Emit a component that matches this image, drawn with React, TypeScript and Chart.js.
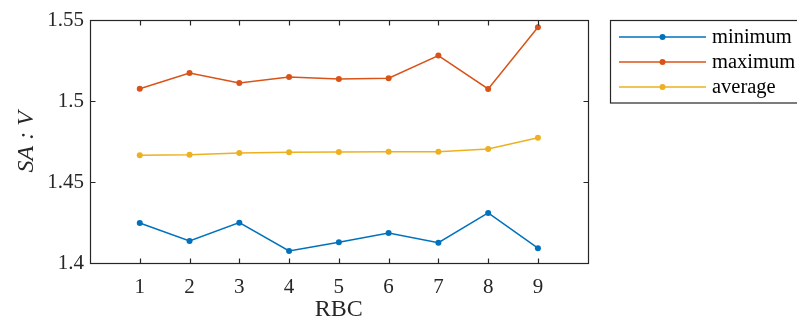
import React, { useEffect, useRef } from "react";
import { Chart, registerables } from "chart.js";

Chart.register(...registerables);

// RBC index on the x axis
const rbc = [1, 2, 3, 4, 5, 6, 7, 8, 9];

// Surface-area-to-volume ratio per RBC
const minimumSAV = [1.4249, 1.4138, 1.4251, 1.4076, 1.413, 1.4187, 1.4127, 1.4311, 1.4093];
const maximumSAV = [1.5078, 1.5175, 1.5113, 1.515, 1.5138, 1.5142, 1.5282, 1.5076, 1.5457];
const averageSAV = [1.4667, 1.467, 1.4681, 1.4685, 1.4687, 1.4689, 1.4689, 1.4706, 1.4775];

const xTicks = [1, 2, 3, 4, 5, 6, 7, 8, 9];
const yTicks = [1.4, 1.45, 1.5, 1.55];

const seriesNames = ["minimum", "maximum", "average"];
const seriesColors = ["#0072BD", "#D95319", "#EDB120"];

const AXIS_COLOR = "#262626";
const SERIF = "'Liberation Serif', 'Times New Roman', serif";

// Box around the axes with inward tick marks on all four sides, plus the legend
const frameAndLegend = {
  id: "frameAndLegend",
  afterDraw(chart: any) {
    const ctx = chart.ctx as CanvasRenderingContext2D;
    const { left, right, top, bottom } = chart.chartArea;
    const xs = chart.scales.x;
    const ys = chart.scales.y;
    const tick = 5;
    ctx.save();
    ctx.strokeStyle = AXIS_COLOR;
    ctx.lineWidth = 1.2;
    const L = Math.round(left) + 0.5;
    const R = Math.round(right) + 0.5;
    const T = Math.round(top) + 0.5;
    const B = Math.round(bottom) + 0.5;
    ctx.strokeRect(L, T, R - L, B - T);
    ctx.beginPath();
    for (const v of xTicks) {
      const px = Math.round(xs.getPixelForValue(v)) + 0.5;
      ctx.moveTo(px, B);
      ctx.lineTo(px, B - tick);
      ctx.moveTo(px, T);
      ctx.lineTo(px, T + tick);
    }
    for (const v of yTicks) {
      const py = Math.round(ys.getPixelForValue(v)) + 0.5;
      ctx.moveTo(L, py);
      ctx.lineTo(L + tick, py);
      ctx.moveTo(R, py);
      ctx.lineTo(R - tick, py);
    }
    ctx.stroke();

    // legend
    const boxX = 610.5;
    const boxY = 20.5;
    ctx.fillStyle = "#ffffff";
    ctx.fillRect(boxX, boxY, 200, 82.5);
    ctx.strokeRect(boxX, boxY, 200, 82.5);
    const rows = [37, 62, 87];
    chart.data.datasets.forEach((ds: any, i: number) => {
      const y = rows[i];
      ctx.strokeStyle = ds.borderColor;
      ctx.lineWidth = 1.5;
      ctx.beginPath();
      ctx.moveTo(619, y);
      ctx.lineTo(706, y);
      ctx.stroke();
      ctx.fillStyle = ds.borderColor;
      ctx.beginPath();
      ctx.arc(662.5, y, 3, 0, Math.PI * 2);
      ctx.fill();
      ctx.fillStyle = "#000000";
      ctx.font = `20.5px ${SERIF}`;
      ctx.textAlign = "left";
      ctx.textBaseline = "middle";
      ctx.fillText(ds.label, 712, y + 1);
    });
    ctx.restore();
  },
};

export default function App() {
  const canvasRef = useRef<HTMLCanvasElement | null>(null);

  useEffect(() => {
    if (!canvasRef.current) return;
    const datasets = [minimumSAV, maximumSAV, averageSAV].map((vals, i) => ({
      label: seriesNames[i],
      data: rbc.map((x, j) => ({ x, y: vals[j] })),
      borderColor: seriesColors[i],
      backgroundColor: seriesColors[i],
      borderWidth: 1.5,
      pointRadius: 3,
      pointHoverRadius: 3,
      pointBorderWidth: 0,
      tension: 0,
    }));

    const chart = new Chart(canvasRef.current, {
      type: "line",
      data: { datasets },
      options: {
        animation: false,
        responsive: false,
        devicePixelRatio: 1,
        parsing: true,
        layout: { padding: { top: 20.3, right: 209.3, left: 0, bottom: 0 } },
        plugins: { legend: { display: false }, tooltip: { enabled: false } },
        scales: {
          x: {
            type: "linear",
            min: 0,
            max: 10,
            afterBuildTicks: (s: any) => {
              s.ticks = xTicks.map((v) => ({ value: v }));
            },
            afterFit: (s: any) => {
              s.height = 58.7;
            },
            grid: { display: false, drawTicks: false },
            border: { display: false },
            ticks: {
              color: AXIS_COLOR,
              font: { family: SERIF, size: 21 },
              padding: 12,
              maxRotation: 0,
              callback: (v: any) => String(v),
            },
            title: {
              display: true,
              text: "RBC",
              color: AXIS_COLOR,
              font: { family: SERIF, size: 24, lineHeight: 1 },
              padding: { top: 0, bottom: 0 },
            },
          },
          y: {
            type: "linear",
            min: 1.4,
            max: 1.55,
            afterBuildTicks: (s: any) => {
              s.ticks = yTicks.map((v) => ({ value: v }));
            },
            afterFit: (s: any) => {
              s.width = 90;
            },
            grid: { display: false, drawTicks: false },
            border: { display: false },
            ticks: {
              color: AXIS_COLOR,
              font: { family: SERIF, size: 21 },
              padding: 6,
              callback: (v: any) => String(Number(Number(v).toFixed(2))),
            },
            title: {
              display: true,
              text: "SA : V",
              color: AXIS_COLOR,
              font: { family: SERIF, size: 24, style: "italic", lineHeight: 1 },
              padding: { top: 15, bottom: 0 },
            },
          },
        },
      },
      plugins: [frameAndLegend],
    });
    return () => chart.destroy();
  }, []);

  return (
    <div style={{ position: "absolute", left: 0, top: 0, width: 797, height: 322, background: "#ffffff" }}>
      <canvas ref={canvasRef} width={797} height={322} />
    </div>
  );
}
